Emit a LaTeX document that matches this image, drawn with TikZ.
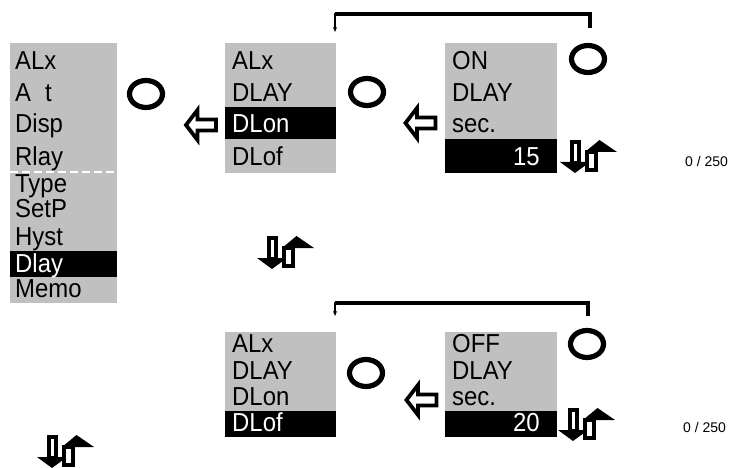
\documentclass[tikz,border=0pt]{standalone}
\usepackage{fontspec}
\setmainfont{Liberation Sans}
\newfontfamily\narrowfont[FakeStretch=0.92]{Liberation Sans}
\usetikzlibrary{shapes.geometric,arrows.meta}
\definecolor{menugray}{RGB}{192,192,192}
\newcommand{\menufont}{\narrowfont\fontsize{26}{26}\selectfont}
\newcommand{\countfont}{\fontsize{14}{14}\selectfont}

\tikzset{
  menubox/.style={fill=menugray, anchor=north west, inner sep=0pt},
  row/.style={anchor=base west, inner sep=0pt, font=\menufont},
  selrow/.style={row, text=white},
  knob/.style={ellipse, draw, line width=5.2pt, minimum width=33pt,
    minimum height=27pt, inner sep=0pt},
  bracket/.style={line width=4pt},
  pics/backarrow/.style={code={
    \draw[line width=3.8pt, line join=miter, fill=white]
      (-14.5,0) -- (-3,-15) -- (-3,-5.5) -- (15.5,-5.5) -- (15.5,5.5) -- (-3,5.5) -- (-3,15) -- cycle;}},
  pics/updown/.style={code={
    \draw[line width=3.8pt, fill=white] (11.9,1.9) rectangle (19.1,23);
    \fill (0,22) -- (30,22) -- (15,33) -- cycle;
    \draw[line width=3.8pt, fill=white] (26.9,12) rectangle (36.1,30.1);
    \fill (25,12) -- (57,12) -- (39.5,0) -- cycle;}}
}

\begin{document}
\begin{tikzpicture}[x=1pt, y=-1pt]
\useasboundingbox (0,0) rectangle (734,468);

% main menu
\node[menubox, minimum width=107pt, minimum height=260pt] (m1) at (10,43) {};
\fill (10,251) rectangle (117,277);
\draw[white, line width=1.3pt, dash pattern=on 8pt off 4pt] (10,172) -- (117,172);
\node[row] (m1-1) at (15,70) {ALx};
\node[row] (m1-2) at (15,102) {A\hspace{14pt}t};
\node[row] (m1-3) at (15,133) {Disp};
\node[row] (m1-4) at (15,166) {Rlay};
\node[row] (m1-5) at (15,193) {Type};
\node[row] (m1-6) at (15,218) {SetP};
\node[row] (m1-7) at (15,245) {Hyst};
\node[selrow] (m1-8) at (15,272) {Dlay};
\node[row] (m1-9) at (15,297) {Memo};

% delay menu, DLon selected
\node[menubox, minimum width=111pt, minimum height=130pt] (m2) at (225,43) {};
\fill (225,107) rectangle (336,139);
\node[row] (m2-1) at (232,70) {ALx};
\node[row] (m2-2) at (232,102) {DLAY};
\node[selrow] (m2-3) at (232,133) {DLon};
\node[row] (m2-4) at (232,166) {DLof};

% on delay value
\node[menubox, minimum width=112pt, minimum height=130pt] (m3) at (445,43) {};
\fill (445,139) rectangle (557,173);
\node[row] (m3-1) at (452,70) {ON};
\node[row] (m3-2) at (452,102) {DLAY};
\node[row] (m3-3) at (452,133) {sec.};
\node[selrow, anchor=base east] (m3-4) at (540,166) {15};

% delay menu, DLof selected
\node[menubox, minimum width=111pt, minimum height=105pt] (m4) at (225,332) {};
\fill (225,411) rectangle (336,437);
\node[row] (m4-1) at (232,352) {ALx};
\node[row] (m4-2) at (232,379) {DLAY};
\node[row] (m4-3) at (232,405) {DLon};
\node[selrow] (m4-4) at (232,431) {DLof};

% off delay value
\node[menubox, minimum width=112pt, minimum height=105pt] (m5) at (445,332) {};
\fill (445,411) rectangle (557,437);
\node[row] (m5-1) at (452,352) {OFF};
\node[row] (m5-2) at (452,379) {DLAY};
\node[row] (m5-3) at (452,405) {sec.};
\node[selrow, anchor=base east] (m5-4) at (540,431) {20};

% keys
\node[knob] (k1) at (146,94) {};
\node[knob] (k2) at (367,92) {};
\node[knob] (k3) at (588,59) {};
\node[knob] (k4) at (366,373) {};
\node[knob] (k5) at (587,344) {};

\pic at (200.5,125) {backarrow};
\pic at (420,123) {backarrow};
\pic at (421,400) {backarrow};

\pic at (560,140) {updown};
\pic at (257,236) {updown};
\pic at (558,408) {updown};
\pic at (37,435) {updown};

\node[anchor=base west, inner sep=0pt, font=\countfont] (r1) at (685,167) {0 / 250};
\node[anchor=base west, inner sep=0pt, font=\countfont] (r2) at (683,432) {0 / 250};

% back to the delay menu
\coordinate (t1) at (590,28);
\coordinate (t2) at (335,32);
\draw[bracket] (t1) -- (590,14) -- (335,14);
\draw[-{Stealth[length=5pt,width=4pt]}, line width=1.2pt] (335,13) -- (t2);
\coordinate (t3) at (588,316);
\coordinate (t4) at (335,316);
\draw[bracket] (t3) -- (588,303) -- (335,303);
\draw[-{Stealth[length=5pt,width=4pt]}, line width=1.2pt] (335,302) -- (t4);
\end{tikzpicture}
\end{document}
